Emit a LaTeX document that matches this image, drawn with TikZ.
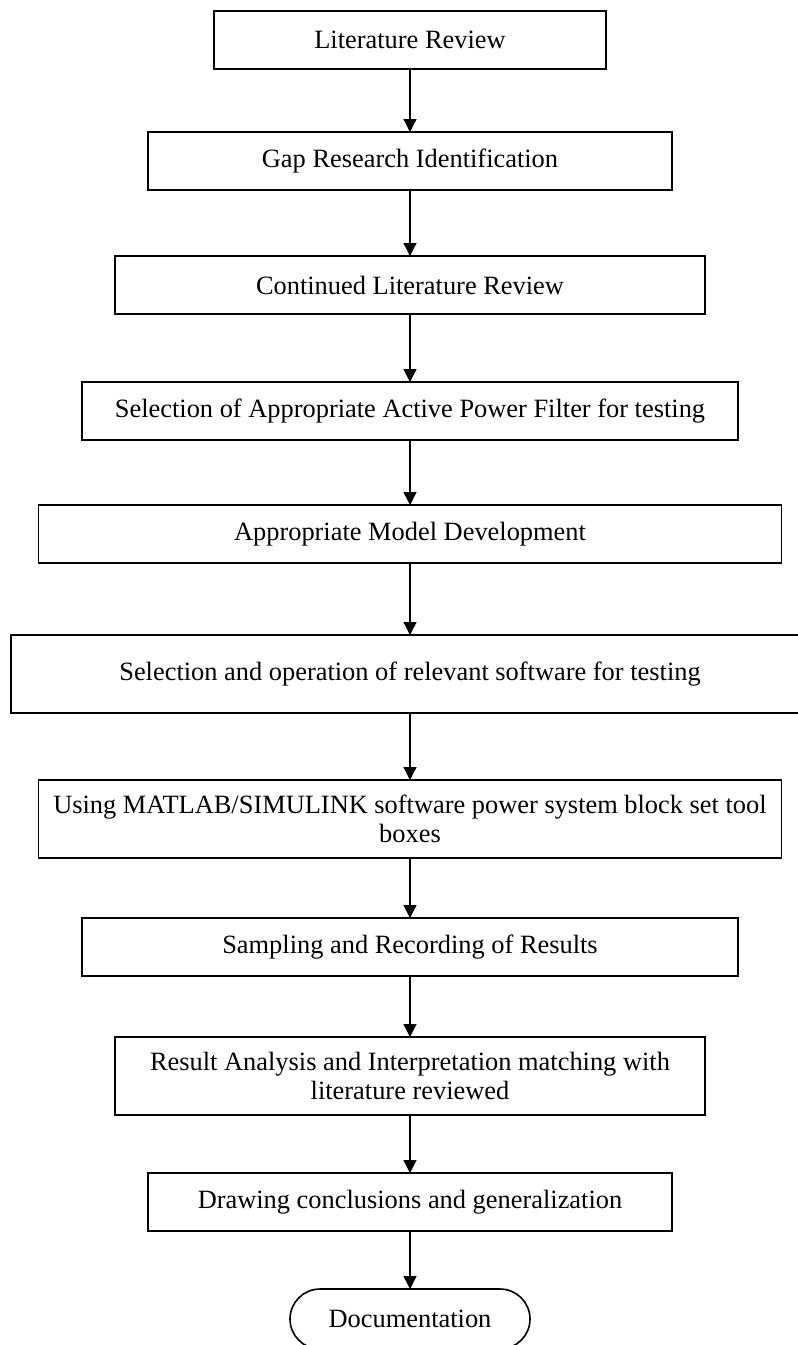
\documentclass[tikz,border=0pt]{standalone}
\usepackage{fontspec}
\setmainfont{Liberation Serif}
\usetikzlibrary{arrows.meta,positioning}

\begin{document}
\begin{tikzpicture}[x=0.5pt,y=-0.5pt,font=\fontsize{13.2}{14.5}\selectfont,
  stage/.style={draw,line width=0.8pt,minimum height=29pt,align=center,inner xsep=2pt,outer sep=0pt},
  flow/.style={-{Triangle[length=6.5pt,width=6.5pt]},line width=0.7pt}]
  \useasboundingbox (0,0) rectangle (798,1345);
  \node[stage,minimum width=196pt] (lit) at (410,40) {Literature Review};
  \node[stage,minimum width=262pt,below=31.5pt of lit] (gap) {Gap Research Identification};
  \node[stage,minimum width=295pt,below=33pt of gap] (cont) {Continued Literature Review};
  \node[stage,minimum width=328pt,below=34pt of cont] (apf) {Selection of Appropriate Active Power Filter for testing};
  \node[stage,minimum width=371.5pt,below=32.5pt of apf] (model) {Appropriate Model Development};
  \node[stage,minimum width=399pt,minimum height=39pt,below=36pt of model] (soft) {Selection and operation of relevant software for testing};
  \node[stage,minimum width=371.5pt,minimum height=39pt,below=33.5pt of soft] (matlab) {Using MATLAB/SIMULINK software power system block set tool\\boxes};
  \node[stage,minimum width=328pt,below=30pt of matlab] (samp) {Sampling and Recording of Results};
  \node[stage,minimum width=295pt,minimum height=39pt,below=30.5pt of samp] (res) {Result Analysis and Interpretation matching with\\literature reviewed};
  \node[stage,minimum width=262pt,below=29pt of res] (concl) {Drawing conclusions and generalization};
  \node[stage,minimum width=120pt,minimum height=30pt,rounded corners=15pt,below=29pt of concl] (doc) {Documentation};
  % arrows between the stages
  \foreach \a/\b in {lit/gap,gap/cont,cont/apf,apf/model,model/soft,soft/matlab,matlab/samp,samp/res,res/concl,concl/doc}
    \draw[flow] (\a) -- (\b);
\end{tikzpicture}
\end{document}
